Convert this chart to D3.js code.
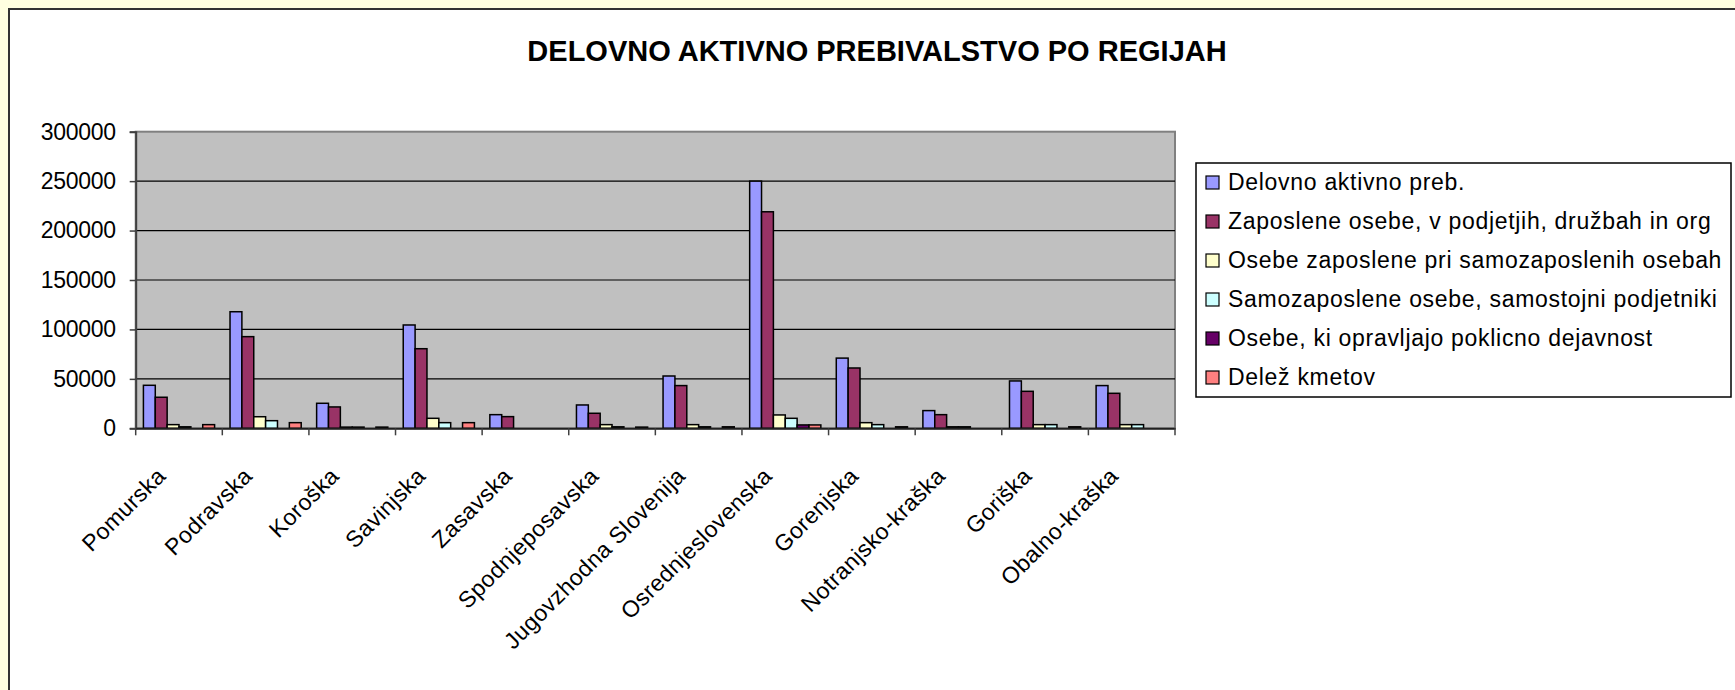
<!DOCTYPE html>
<html><head><meta charset="utf-8">
<script src="https://cdn.jsdelivr.net/npm/d3@7"></script>
<style>
html,body{margin:0;padding:0;background:#FFFFE0;overflow:hidden}
text{font-family:Arial,"Liberation Sans",sans-serif}
</style></head>
<body>
<svg id="c" width="1735" height="690"></svg>
<script>
const title = "DELOVNO AKTIVNO PREBIVALSTVO PO REGIJAH";
const categories = ["Pomurska","Podravska","Koroška","Savinjska","Zasavska","Spodnjeposavska","Jugovzhodna Slovenija","Osrednjeslovenska","Gorenjska","Notranjsko-kraška","Goriška","Obalno-kraška"];
const seriesNames = ["Delovno aktivno preb.","Zaposlene osebe, v podjetjih, družbah in org","Osebe zaposlene pri samozaposlenih osebah","Samozaposlene osebe, samostojni podjetniki","Osebe, ki opravljajo poklicno dejavnost","Delež kmetov"];
const seriesColors = ["#9999FF","#993366","#FFFFCC","#CCFFFF","#660066","#FF8080"];
const delovnoAktivno   = [43500,117900,25300,104500,13800,23600,52900,250000,71000,17900,47900,43200];
const zaposleneOrg     = [31400,92700,21600,80500,11800,15200,43200,219000,61000,13800,37400,35400];
const zaposleneSamoz   = [3700,11700,1200,10100,0,3700,3700,13500,5700,1500,3700,3700];
const samozaposlene    = [1500,7700,1200,5700,0,1500,1500,10100,3700,1500,3700,3700];
const poklicnaDejav    = [0,0,0,0,0,0,0,3400,0,0,0,0];
const delezKmetov      = [3700,5700,1200,5700,0,1200,1500,3400,1500,0,1500,0];
const yTicks = [0,50000,100000,150000,200000,250000,300000];
const allSeries = [delovnoAktivno,zaposleneOrg,zaposleneSamoz,samozaposlene,poklicnaDejav,delezKmetov];

(function(){
const svg = d3.select("#c");
svg.append("rect").attr("x",9).attr("y",9).attr("width",1800).attr("height",800)
  .attr("fill","#fff").attr("stroke","#333").attr("stroke-width",2);

svg.append("text").attr("x",877).attr("y",61).attr("text-anchor","middle")
  .attr("font-size",29).attr("font-weight","bold").text(title);

const pLeft=135.7, pRight=1175, pTop=131.7, pBase=428.3;
const x = d3.scaleBand().domain(categories).range([pLeft,pRight]).padding(0);
const gap = 1.3;
const bw = x.bandwidth()/(seriesNames.length+gap);
const x1 = d3.scaleBand().domain(d3.range(seriesNames.length))
  .range([bw*gap/2, x.bandwidth()-bw*gap/2]).padding(0);
const y = d3.scaleLinear().domain([0,300000]).range([pBase,pTop]);

svg.append("rect").attr("x",pLeft).attr("y",pTop).attr("width",pRight-pLeft).attr("height",pBase-pTop)
  .attr("fill","#C0C0C0").attr("stroke","#808080").attr("stroke-width",2);

svg.append("g").selectAll("line").data(yTicks.filter(t=>t>0 && t<300000)).join("line")
  .attr("x1",pLeft).attr("x2",pRight).attr("y1",d=>y(d)).attr("y2",d=>y(d))
  .attr("stroke","#000").attr("stroke-width",1.2);

const g = svg.append("g");
categories.forEach((c,ci)=>{
  allSeries.forEach((s,si)=>{
    const v = s[ci];
    if(!v) return;
    g.append("rect").attr("x",x(c)+x1(si)).attr("y",y(v)).attr("width",x1.bandwidth())
      .attr("height",y(0)-y(v)).attr("fill",seriesColors[si]).attr("stroke","#000").attr("stroke-width",1.5);
  });
});

const yAxis = d3.axisLeft(y).tickValues(yTicks).tickSize(6).tickPadding(14).tickFormat(d3.format("d"));
const ya = svg.append("g").attr("transform",`translate(${pLeft},0)`).call(yAxis);
ya.select(".domain").attr("stroke","#404040").attr("stroke-width",2);
ya.selectAll(".tick line").attr("stroke","#404040").attr("stroke-width",1.5);
ya.selectAll(".tick text").attr("font-size",23).attr("fill","#000").attr("letter-spacing",-0.3)
  .attr("font-family","Arial, 'Liberation Sans', sans-serif");

const xAxis = d3.axisBottom(x).tickSize(0).tickFormat("");
const xa = svg.append("g").attr("transform",`translate(0,${pBase})`).call(xAxis);
xa.select(".domain").attr("stroke","#202020").attr("stroke-width",2);
const bounds = categories.map(c=>x(c)).concat([pRight]);
xa.append("g").selectAll("line").data(bounds).join("line")
  .attr("x1",d=>d).attr("x2",d=>d).attr("y1",0).attr("y2",7).attr("stroke","#404040").attr("stroke-width",1.5);
xa.append("g").selectAll("text").data(categories).join("text")
  .attr("transform",d=>`translate(${x(d)+x.bandwidth()/2-12},${49}) rotate(-45)`)
  .attr("text-anchor","end").attr("font-size",23).attr("letter-spacing",0.4).attr("fill","#000").text(d=>d);

const lg = svg.append("g");
lg.append("rect").attr("x",1196).attr("y",163).attr("width",535).attr("height",234)
  .attr("fill","#fff").attr("stroke","#000").attr("stroke-width",1.5);
seriesNames.forEach((n,i)=>{
  const cy = 182 + i*39;
  lg.append("rect").attr("x",1206).attr("y",cy-6).attr("width",13).attr("height",13)
    .attr("fill",seriesColors[i]).attr("stroke","#000").attr("stroke-width",1.2);
  lg.append("text").attr("x",1228).attr("y",cy).attr("dy","0.36em").attr("font-size",23)
    .attr("letter-spacing",0.7).attr("fill","#000").text(n);
});
})();
</script>
</body></html>
